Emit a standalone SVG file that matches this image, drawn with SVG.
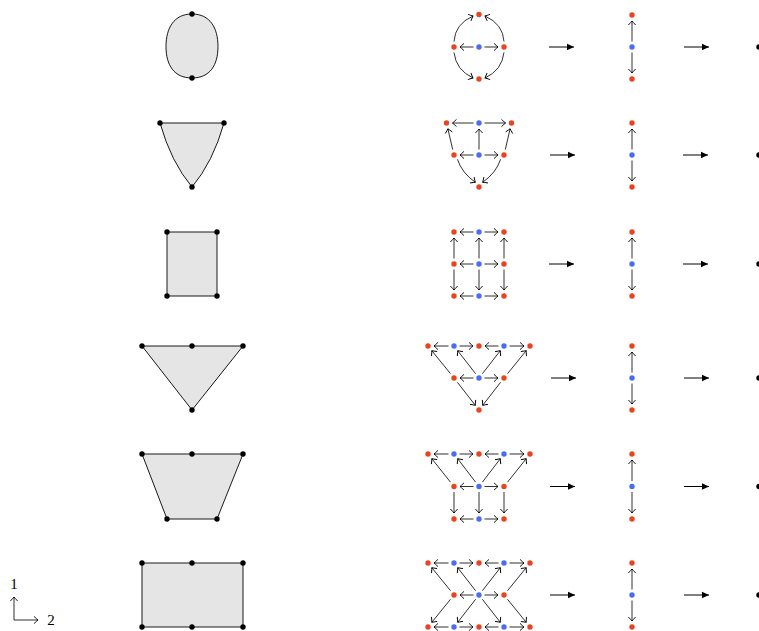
<svg xmlns="http://www.w3.org/2000/svg" width="759" height="631" viewBox="0 0 759 631">
<style>
.r{fill:#e8441f}
.b{fill:#4a6cf5}
.k{fill:#000}
.sh{fill:#e5e5e5;stroke:#000;stroke-width:0.9;stroke-linejoin:round}
.a{fill:none;stroke:#1a1a1a;stroke-width:0.9;marker-end:url(#to)}
.f{fill:none;stroke:#000;stroke-width:1;marker-end:url(#lat)}
.t{font-family:"Liberation Serif","DejaVu Serif",serif;font-size:15px;fill:#000}
</style>
<defs>
<marker id="to" viewBox="-6 -6 12 12" refX="0" refY="0" markerWidth="12" markerHeight="12" markerUnits="userSpaceOnUse" orient="auto">
<path d="M-4,-3.6 Q-1.2,-1 0,0 Q-1.2,1 -4,3.6" fill="none" stroke="#000" stroke-width="0.9"/>
</marker>
<marker id="lat" viewBox="-8 -5 10 10" refX="0" refY="0" markerWidth="10" markerHeight="10" markerUnits="userSpaceOnUse" orient="auto">
<path d="M0,0 L-7,-3.2 L-7,3.2 Z" fill="#000"/>
</marker>
</defs>

<!-- left shapes -->
<g id="shape1">
<path class="sh" d="M192,14 C210,14 218,28 218,46.5 C218,65 210,78 192,78 C174,78 166,65 166,46.5 C166,28 174,14 192,14 Z"/>
<circle class="k" cx="192" cy="14" r="2.7"/><circle class="k" cx="192" cy="78" r="2.7"/>
</g>
<g id="shape2">
<path class="sh" d="M160,123 L224,123 Q213,162 192,187 Q171,162 160,123 Z"/>
<circle class="k" cx="160" cy="123" r="2.7"/><circle class="k" cx="224" cy="123" r="2.7"/><circle class="k" cx="192" cy="187" r="2.7"/>
</g>
<g id="shape3">
<rect class="sh" x="167" y="232" width="50" height="64"/>
<circle class="k" cx="167" cy="232" r="2.7"/><circle class="k" cx="217" cy="232" r="2.7"/><circle class="k" cx="167" cy="296" r="2.7"/><circle class="k" cx="217" cy="296" r="2.7"/>
</g>
<g id="shape4">
<path class="sh" d="M142,346 L243,346 L192,410 Z"/>
<circle class="k" cx="142" cy="346" r="2.7"/><circle class="k" cx="192" cy="346" r="2.7"/><circle class="k" cx="243" cy="346" r="2.7"/><circle class="k" cx="192" cy="410" r="2.7"/>
</g>
<g id="shape5">
<path class="sh" d="M142,454 L243,454 L217,519 L167,519 Z"/>
<circle class="k" cx="142" cy="454" r="2.7"/><circle class="k" cx="192" cy="454" r="2.7"/><circle class="k" cx="243" cy="454" r="2.7"/><circle class="k" cx="167" cy="519" r="2.7"/><circle class="k" cx="217" cy="519" r="2.7"/>
</g>
<g id="shape6">
<rect class="sh" x="142" y="563" width="101" height="64"/>
<circle class="k" cx="142" cy="563" r="2.7"/><circle class="k" cx="192" cy="563" r="2.7"/><circle class="k" cx="243" cy="563" r="2.7"/><circle class="k" cx="142" cy="627" r="2.7"/><circle class="k" cx="192" cy="627" r="2.7"/><circle class="k" cx="243" cy="627" r="2.7"/>
</g>

<!-- connectors -->
<g id="connectors">
<!-- row 1 -->
<path class="a" d="M473.5,47 H460"/><path class="a" d="M484.5,47 H498"/>
<path class="a" d="M454,41.5 Q455,24 473,16"/><path class="a" d="M504,41.5 Q503,24 485,16"/>
<path class="a" d="M454,52.5 Q456,70 473,78"/><path class="a" d="M504,52.5 Q502,70 485,78"/>
<!-- row 2 -->
<path class="a" d="M473.5,123 H452.5"/><path class="a" d="M484.5,123 H505.5"/>
<path class="a" d="M479,149.5 V129"/>
<path class="a" d="M473.5,155 H460"/><path class="a" d="M484.5,155 H498"/>
<path class="a" d="M452.7,149.6 L447.9,128.8"/><path class="a" d="M505.3,149.6 L510.1,128.8"/>
<path class="a" d="M457.4,159.3 Q462,173 475.3,182.3"/><path class="a" d="M500.6,159.3 Q496,173 482.7,182.3"/>
<!-- row 3 -->
<path class="a" d="M473.5,232 H460"/><path class="a" d="M484.5,232 H498"/>
<path class="a" d="M473.5,264 H460"/><path class="a" d="M484.5,264 H498"/>
<path class="a" d="M473.5,296 H460"/><path class="a" d="M484.5,296 H498"/>
<path class="a" d="M454,258.5 V238"/><path class="a" d="M479,258.5 V238"/><path class="a" d="M504,258.5 V238"/>
<path class="a" d="M454,269.5 V290"/><path class="a" d="M479,269.5 V290"/><path class="a" d="M504,269.5 V290"/>
<!-- row 4 -->
<path class="a" d="M448.5,346 H434"/><path class="a" d="M459.5,346 H473"/><path class="a" d="M498.5,346 H485"/><path class="a" d="M509.5,346 H524"/>
<path class="a" d="M473.5,378 H460"/><path class="a" d="M484.5,378 H498"/>
<path class="a" d="M450.5,373.7 L431.8,350.7"/><path class="a" d="M475.6,373.7 L457.7,350.7"/>
<path class="a" d="M482.4,373.7 L500.3,350.7"/><path class="a" d="M507.5,373.7 L526.2,350.7"/>
<path class="a" d="M457.4,382.3 L475.3,405.3"/><path class="a" d="M500.6,382.3 L482.7,405.3"/>
<!-- row 5 -->
<path class="a" d="M448.5,454 H434"/><path class="a" d="M459.5,454 H473"/><path class="a" d="M498.5,454 H485"/><path class="a" d="M509.5,454 H524"/>
<path class="a" d="M473.5,486.5 H460"/><path class="a" d="M484.5,486.5 H498"/>
<path class="a" d="M450.5,482.2 L431.8,458.7"/><path class="a" d="M475.6,482.2 L457.7,458.7"/>
<path class="a" d="M482.4,482.2 L500.3,458.7"/><path class="a" d="M507.5,482.2 L526.2,458.7"/>
<path class="a" d="M454,492 V513"/><path class="a" d="M479,492 V513"/><path class="a" d="M504,492 V513"/>
<path class="a" d="M473.5,519 H460"/><path class="a" d="M484.5,519 H498"/>
<!-- row 6 -->
<path class="a" d="M448.5,563 H434"/><path class="a" d="M459.5,563 H473"/><path class="a" d="M498.5,563 H485"/><path class="a" d="M509.5,563 H524"/>
<path class="a" d="M473.5,595 H460"/><path class="a" d="M484.5,595 H498"/>
<path class="a" d="M450.5,590.7 L431.8,567.7"/><path class="a" d="M475.6,590.7 L457.7,567.7"/>
<path class="a" d="M482.4,590.7 L500.3,567.7"/><path class="a" d="M507.5,590.7 L526.2,567.7"/>
<path class="a" d="M450.5,599.3 L431.8,622.3"/><path class="a" d="M475.6,599.3 L457.7,622.3"/>
<path class="a" d="M482.4,599.3 L500.3,622.3"/><path class="a" d="M507.5,599.3 L526.2,622.3"/>
<path class="a" d="M448.5,627 H434"/><path class="a" d="M459.5,627 H473"/><path class="a" d="M498.5,627 H485"/><path class="a" d="M509.5,627 H524"/>
<!-- vertical columns -->
<path class="a" d="M632,41.5 V21"/><path class="a" d="M632,52.5 V73"/>
<path class="a" d="M632,149.5 V129"/><path class="a" d="M632,160.5 V181"/>
<path class="a" d="M632,258.5 V238"/><path class="a" d="M632,269.5 V290"/>
<path class="a" d="M632,372.5 V352"/><path class="a" d="M632,383.5 V404"/>
<path class="a" d="M632,481 V460"/><path class="a" d="M632,492 V513"/>
<path class="a" d="M632,589.5 V569"/><path class="a" d="M632,600.5 V621"/>
<!-- transition arrows -->
<path class="f" d="M549,47 H574"/><path class="f" d="M684,47 H709"/>
<path class="f" d="M550,155 H575"/><path class="f" d="M683,155 H708"/>
<path class="f" d="M549,264 H574"/><path class="f" d="M683,264 H708"/>
<path class="f" d="M551,378 H576"/><path class="f" d="M684,378 H709"/>
<path class="f" d="M550,486.5 H575"/><path class="f" d="M684,486.5 H709"/>
<path class="f" d="M550,595 H575"/><path class="f" d="M684,595 H709"/>
<!-- axes -->
<path class="a" d="M14,620 V597"/><path class="a" d="M14,620 H38"/>
</g>

<!-- lattice nodes -->
<g id="lattice1">
<circle class="r" cx="479" cy="14.5" r="2.7"/><circle class="r" cx="454" cy="47" r="2.7"/><circle class="b" cx="479" cy="47" r="2.7"/><circle class="r" cx="504" cy="47" r="2.7"/><circle class="r" cx="479" cy="79" r="2.7"/>
</g>
<g id="lattice2">
<circle class="r" cx="446.5" cy="123" r="2.7"/><circle class="b" cx="479" cy="123" r="2.7"/><circle class="r" cx="511.5" cy="123" r="2.7"/>
<circle class="r" cx="454" cy="155" r="2.7"/><circle class="b" cx="479" cy="155" r="2.7"/><circle class="r" cx="504" cy="155" r="2.7"/>
<circle class="r" cx="479" cy="187" r="2.7"/>
</g>
<g id="lattice3">
<circle class="r" cx="454" cy="232" r="2.7"/><circle class="b" cx="479" cy="232" r="2.7"/><circle class="r" cx="504" cy="232" r="2.7"/>
<circle class="r" cx="454" cy="264" r="2.7"/><circle class="b" cx="479" cy="264" r="2.7"/><circle class="r" cx="504" cy="264" r="2.7"/>
<circle class="r" cx="454" cy="296" r="2.7"/><circle class="b" cx="479" cy="296" r="2.7"/><circle class="r" cx="504" cy="296" r="2.7"/>
</g>
<g id="lattice4">
<circle class="r" cx="428" cy="346" r="2.7"/><circle class="b" cx="454" cy="346" r="2.7"/><circle class="r" cx="479" cy="346" r="2.7"/><circle class="b" cx="504" cy="346" r="2.7"/><circle class="r" cx="530" cy="346" r="2.7"/>
<circle class="r" cx="454" cy="378" r="2.7"/><circle class="b" cx="479" cy="378" r="2.7"/><circle class="r" cx="504" cy="378" r="2.7"/>
<circle class="r" cx="479" cy="410" r="2.7"/>
</g>
<g id="lattice5">
<circle class="r" cx="428" cy="454" r="2.7"/><circle class="b" cx="454" cy="454" r="2.7"/><circle class="r" cx="479" cy="454" r="2.7"/><circle class="b" cx="504" cy="454" r="2.7"/><circle class="r" cx="530" cy="454" r="2.7"/>
<circle class="r" cx="454" cy="486.5" r="2.7"/><circle class="b" cx="479" cy="486.5" r="2.7"/><circle class="r" cx="504" cy="486.5" r="2.7"/>
<circle class="r" cx="454" cy="519" r="2.7"/><circle class="b" cx="479" cy="519" r="2.7"/><circle class="r" cx="504" cy="519" r="2.7"/>
</g>
<g id="lattice6">
<circle class="r" cx="428" cy="563" r="2.7"/><circle class="b" cx="454" cy="563" r="2.7"/><circle class="r" cx="479" cy="563" r="2.7"/><circle class="b" cx="504" cy="563" r="2.7"/><circle class="r" cx="530" cy="563" r="2.7"/>
<circle class="r" cx="454" cy="595" r="2.7"/><circle class="b" cx="479" cy="595" r="2.7"/><circle class="r" cx="504" cy="595" r="2.7"/>
<circle class="r" cx="428" cy="627" r="2.7"/><circle class="b" cx="454" cy="627" r="2.7"/><circle class="r" cx="479" cy="627" r="2.7"/><circle class="b" cx="504" cy="627" r="2.7"/><circle class="r" cx="530" cy="627" r="2.7"/>
</g>
<g id="columns">
<circle class="r" cx="632" cy="15" r="2.7"/><circle class="b" cx="632" cy="47" r="2.7"/><circle class="r" cx="632" cy="79" r="2.7"/>
<circle class="r" cx="632" cy="123" r="2.7"/><circle class="b" cx="632" cy="155" r="2.7"/><circle class="r" cx="632" cy="187" r="2.7"/>
<circle class="r" cx="632" cy="232" r="2.7"/><circle class="b" cx="632" cy="264" r="2.7"/><circle class="r" cx="632" cy="296" r="2.7"/>
<circle class="r" cx="632" cy="346" r="2.7"/><circle class="b" cx="632" cy="378" r="2.7"/><circle class="r" cx="632" cy="410" r="2.7"/>
<circle class="r" cx="632" cy="454" r="2.7"/><circle class="b" cx="632" cy="486.5" r="2.7"/><circle class="r" cx="632" cy="519" r="2.7"/>
<circle class="r" cx="632" cy="563" r="2.7"/><circle class="b" cx="632" cy="595" r="2.7"/><circle class="r" cx="632" cy="627" r="2.7"/>
</g>
<g id="points">
<circle class="k" cx="759" cy="47" r="2.7"/><circle class="k" cx="759" cy="155" r="2.7"/><circle class="k" cx="759" cy="264" r="2.7"/>
<circle class="k" cx="759" cy="378" r="2.7"/><circle class="k" cx="759" cy="486.5" r="2.7"/><circle class="k" cx="759" cy="595" r="2.7"/>
</g>
<g id="axes-labels">
<text class="t" x="14" y="589" text-anchor="middle">1</text>
<text class="t" x="51" y="625" text-anchor="middle">2</text>
</g>
</svg>
